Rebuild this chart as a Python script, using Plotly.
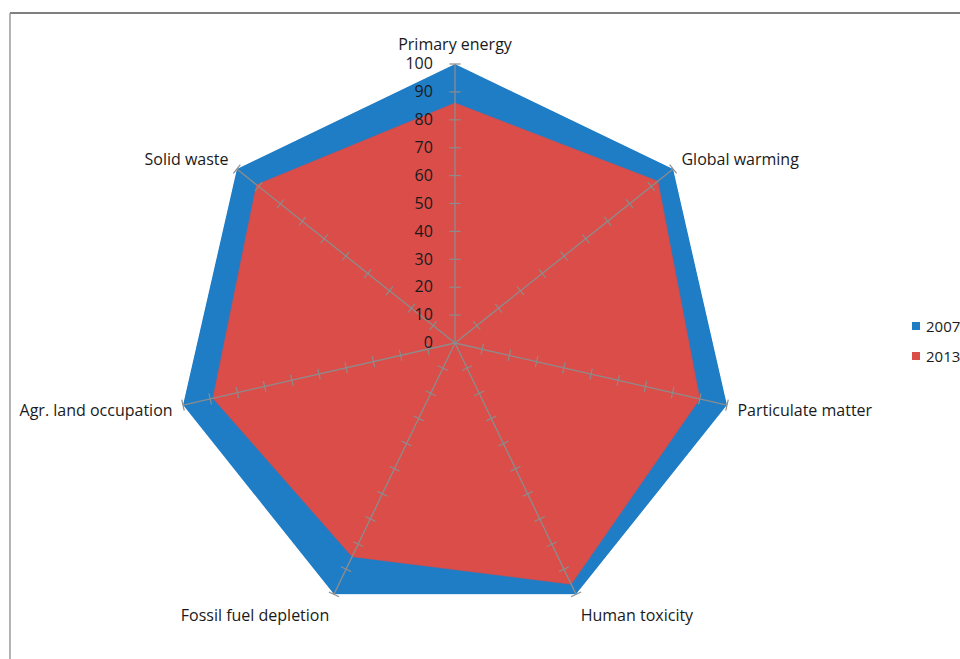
import plotly.graph_objects as go

# Impact categories around the radar, clockwise from the top
categories = [
    "Primary energy",
    "Global warming",
    "Particulate matter",
    "Human toxicity",
    "Fossil fuel depletion",
    "Agr. land occupation",
    "Solid waste",
]

# Relative impact scores (2007 = 100)
values_2007 = [100, 100, 100, 100, 100, 100, 100]
values_2013 = [86, 93, 90, 96, 85, 89, 91]

radial_ticks = [0, 10, 20, 30, 40, 50, 60, 70, 80, 90, 100]

series_names = ["2007", "2013"]

BLUE = "#1F7DC6"
RED = "#DA4D49"
SPOKE = "#8C8C8C"
TEXT = "#1a1a1a"
FONT = "Open Sans"

W, H = 960, 659
cx, cy, rad = 455, 343, 279

fig = go.Figure()

def closed(seq):
    return list(seq) + [seq[0]]

for name, vals, col in zip(series_names, [values_2007, values_2013], [BLUE, RED]):
    fig.add_trace(go.Scatterpolar(
        r=closed(vals), theta=closed(categories), name=name,
        mode="lines", fill="toself", fillcolor=col,
        line=dict(color=col, width=0.5),
        showlegend=False, hoverinfo="skip",
    ))

# Spokes drawn above the filled areas
for c in categories:
    fig.add_trace(go.Scatterpolar(
        r=[radial_ticks[0], radial_ticks[-1]], theta=[c, c],
        mode="lines", line=dict(color=SPOKE, width=1.3),
        showlegend=False, hoverinfo="skip",
    ))

# Small cross ticks along every spoke
tick_r, tick_t, tick_a = [], [], []
step = 360 / len(categories)
for i, c in enumerate(categories):
    for v in radial_ticks[1:]:
        tick_r.append(v)
        tick_t.append(c)
        tick_a.append(i * step)
fig.add_trace(go.Scatterpolar(
    r=tick_r, theta=tick_t, mode="markers",
    marker=dict(symbol="line-ew", size=8, angle=tick_a,
                line=dict(color=SPOKE, width=1.2)),
    showlegend=False, hoverinfo="skip",
))

# Legend: coloured squares with labels at the right edge
legend_shapes, legend_notes = [], []
for k, (name, col) in enumerate(zip(series_names, [BLUE, RED])):
    yc = 326 + k * 30
    legend_shapes.append(dict(
        type="rect", xref="paper", yref="paper",
        x0=912 / W, x1=920 / W, y0=1 - (yc + 4) / H, y1=1 - (yc - 4) / H,
        fillcolor=col, line=dict(width=0),
    ))
    legend_notes.append(dict(
        text=name, xref="paper", yref="paper",
        x=924 / W, y=1 - yc / H, xanchor="left", yanchor="middle",
        showarrow=False, font=dict(family=FONT, size=15, color=TEXT),
    ))

frame = [
    dict(type="line", xref="paper", yref="paper",
         x0=10 / W, x1=1.01, y0=1 - 13 / H, y1=1 - 13 / H,
         line=dict(color="#555555", width=1.5)),
    dict(type="line", xref="paper", yref="paper",
         x0=10 / W, x1=10 / W, y0=1 - 13 / H, y1=-0.01,
         line=dict(color="#9a9a9a", width=1.5)),
]

fig.update_layout(
    width=W, height=H,
    margin=dict(l=0, r=0, t=0, b=0, autoexpand=False),
    paper_bgcolor="white",
    showlegend=False,
    font=dict(family=FONT, size=16, color=TEXT),
    polar=dict(
        domain=dict(x=[(cx - rad) / W, (cx + rad) / W],
                    y=[(H - cy - rad) / H, (H - cy + rad) / H]),
        bgcolor="rgba(0,0,0,0)",
        gridshape="linear",
        angularaxis=dict(
            categoryorder="array", categoryarray=categories,
            rotation=90, direction="clockwise",
            showgrid=False, showline=False,
            ticks="outside", ticklen=7, tickcolor="rgba(0,0,0,0)",
            tickfont=dict(family=FONT, size=16, color=TEXT),
        ),
        radialaxis=dict(
            range=[0, 100], tickvals=radial_ticks, angle=90,
            side="counterclockwise", tickangle=90,
            showgrid=False, showline=False,
            ticks="outside", ticklen=16, tickcolor="rgba(0,0,0,0)",
            tickfont=dict(family=FONT, size=16, color=TEXT),
        ),
    ),
    shapes=frame + legend_shapes,
    annotations=legend_notes,
)

fig.write_html("out.html")
